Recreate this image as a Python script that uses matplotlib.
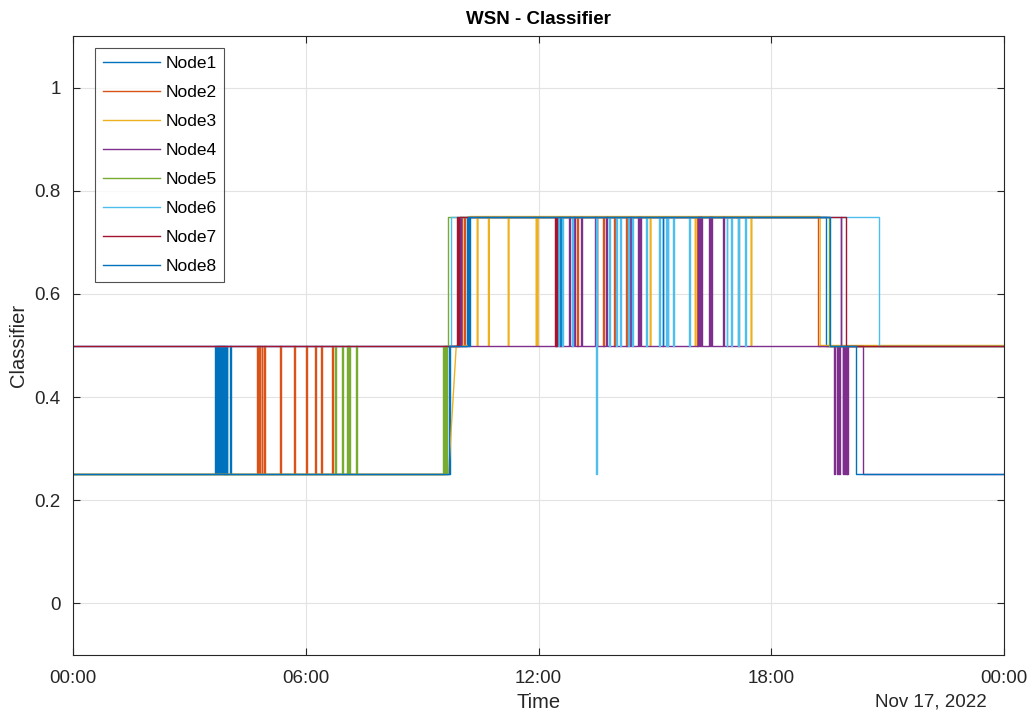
import numpy as np
import matplotlib
matplotlib.use("Agg")
import matplotlib.pyplot as plt
import matplotlib.dates as mdates

# ---------------- data (hours since Nov 16, 2022 00:00) ----------------
node_names = ["Node1", "Node2", "Node3", "Node4", "Node5", "Node6", "Node7", "Node8"]
node_colors = ["#0072BD", "#D95319", "#EDB120", "#7E2F8E", "#77AC30", "#4DBEEE", "#A2142F", "#0072BD"]

# base level changes: (hour, level); None = data gap (linear ramp)
node1_steps = [(0, 0.25), (9.72, 0.5), (10.16, 0.75), (19.40, 0.5)]
node2_steps = [(0, 0.25), (9.60, 0.5), (10.03, 0.75), (19.21, 0.5)]
node3_steps = [(0, 0.25), (9.68, None), (9.88, 0.5), (10.23, 0.75), (19.26, 0.5)]
node4_steps = [(0, 0.5), (20.37, 0.25)]
node5_steps = [(0, 0.25), (9.64, 0.5), (9.667, 0.75), (19.48, 0.5)]
node6_steps = [(0, 0.5), (9.745, 0.75), (20.79, 0.5)]
node7_steps = [(0, 0.5), (9.89, 0.75), (19.92, 0.5)]
node8_steps = [(0, 0.25), (9.70, 0.5), (10.18, 0.75), (19.51, 0.5), (20.18, 0.25)]

# short excursions: (hour, level)
node1_spikes = [(3.66, 0.5), (3.71, 0.5), (3.735, 0.5), (3.76, 0.5), (3.785, 0.5), (3.81, 0.5),
                (3.835, 0.5), (3.86, 0.5), (3.885, 0.5), (3.91, 0.5), (3.935, 0.5), (3.96, 0.5),
                (4.05, 0.5), (12.55, 0.5), (15.20, 0.5)]
node2_spikes = [(4.74, 0.5), (4.80, 0.5), (4.86, 0.5), (4.92, 0.5), (5.34, 0.5), (5.70, 0.5),
                (6.01, 0.5), (6.24, 0.5), (6.39, 0.5), (6.67, 0.5),
                (10.08, 0.5), (12.99, 0.5), (13.50, 0.5), (13.67, 0.5), (13.95, 0.5),
                (14.26, 0.5), (16.09, 0.5)]
node3_spikes = [(10.42, 0.5), (10.71, 0.5), (11.22, 0.5), (11.94, 0.5), (11.97, 0.5),
                (14.88, 0.5), (16.04, 0.5), (17.48, 0.5)]
node4_spikes = [(9.98, 0.75), (12.78, 0.75), (12.92, 0.75), (13.10, 0.75), (13.45, 0.75),
                (13.74, 0.75), (14.36, 0.75), (14.57, 0.75), (14.62, 0.75),
                (16.11, 0.75), (16.135, 0.75), (16.16, 0.75), (16.185, 0.75),
                (16.40, 0.75), (16.425, 0.75), (16.45, 0.75), (16.76, 0.75), (19.79, 0.75),
                (19.62, 0.25), (19.70, 0.25), (19.74, 0.25), (19.84, 0.25), (19.865, 0.25),
                (19.89, 0.25), (19.915, 0.25), (19.94, 0.25), (19.965, 0.25)]
node5_spikes = [(6.75, 0.5), (6.93, 0.5), (7.06, 0.5), (7.085, 0.5), (7.11, 0.5), (7.29, 0.5),
                (9.54, 0.5), (9.565, 0.5), (9.59, 0.5), (17.14, 0.5)]
node6_spikes = [(12.50, 0.5), (12.61, 0.5), (12.86, 0.5), (13.48, 0.25), (13.82, 0.5),
                (14.00, 0.5), (14.10, 0.5), (14.31, 0.5), (14.41, 0.5), (14.77, 0.5),
                (15.11, 0.5), (15.28, 0.5), (15.33, 0.5), (15.47, 0.5), (15.89, 0.5),
                (16.85, 0.5), (16.96, 0.5), (17.14, 0.5), (17.32, 0.5)]
node7_spikes = [(9.93, 0.5), (12.43, 0.5), (12.46, 0.5)]
node8_spikes = [(10.21, 0.5)]

all_steps = [node1_steps, node2_steps, node3_steps, node4_steps,
             node5_steps, node6_steps, node7_steps, node8_steps]
all_spikes = [node1_spikes, node2_spikes, node3_spikes, node4_spikes,
              node5_spikes, node6_spikes, node7_spikes, node8_spikes]

SPIKE_W = 0.02  # hours
END_H = 24.0
START = np.datetime64("2022-11-16T00:00:00")


def level_at(steps, t):
    lv = steps[0][1]
    for st, v in steps:
        if st <= t and v is not None:
            lv = v
    return lv


def build(steps, spikes):
    ev = list(steps)
    for t, lvl in spikes:
        base = level_at(steps, t)
        ev.append((t, lvl))
        ev.append((t + SPIKE_W, base))
    ev.sort(key=lambda e: e[0])
    xs, ys = [], []
    for i, (t, v) in enumerate(ev):
        t_next = ev[i + 1][0] if i + 1 < len(ev) else END_H
        if v is None:
            continue
        xs += [t, t_next]
        ys += [v, v]
    return np.array(xs), np.array(ys)


def to_dt(h):
    return START + (np.asarray(h) * 3600).astype("int64").astype("timedelta64[s]")


# ---------------- figure ----------------
plt.rcParams["font.family"] = ["Liberation Sans", "DejaVu Sans"]
fig = plt.figure(figsize=(10.28, 7.13), dpi=100)
ax = fig.add_axes([73 / 1028, 1 - 655 / 713, (1004 - 73) / 1028, (655 - 36) / 713])

for name, col, st, sp in zip(node_names, node_colors, all_steps, all_spikes):
    xs, ys = build(st, sp)
    ax.plot(to_dt(xs), ys, color=col, lw=1.0, label=name)

ax.set_xlim(to_dt(0.0), to_dt(24.0))
ax.set_ylim(-0.1, 1.1)
ax.set_yticks([0, 0.2, 0.4, 0.6, 0.8, 1.0])
ax.set_yticklabels(["0", "0.2", "0.4", "0.6", "0.8", "1"])
ax.xaxis.set_major_locator(mdates.HourLocator(byhour=[0, 6, 12, 18]))
ax.xaxis.set_major_formatter(mdates.DateFormatter("%H:%M"))

axcol = "#262626"
for s in ax.spines.values():
    s.set_color(axcol)
    s.set_linewidth(0.8)
ax.tick_params(direction="in", length=5, width=0.8, colors=axcol, labelsize=13.5,
               top=True, right=True)
ax.tick_params(axis="x", pad=10.5)
ax.tick_params(axis="y", pad=9)
ax.grid(True, color="#e3e3e3", lw=0.8)
ax.set_axisbelow(True)

ax.set_title("WSN - Classifier", fontsize=13.5, fontweight="bold", color="black", pad=9)
ax.set_ylabel("Classifier", fontsize=14.5, color=axcol)
ax.yaxis.set_label_coords(-(73 - 28) / 931, 0.5)
ax.set_xlabel("Time", fontsize=14.5, color=axcol)
ax.xaxis.set_label_coords(0.5, -(703 - 655) / 619)
ax.xaxis.label.set_va("center")
ax.text(0.982, -(702 - 655) / 619, "Nov 17, 2022", transform=ax.transAxes, ha="right",
        va="center", fontsize=13.5, color=axcol)

leg = ax.legend(loc="upper left", bbox_to_anchor=(0.0236, 0.9806), borderaxespad=0,
                fontsize=12.5, handlelength=3.3, handletextpad=0.3, labelspacing=0.8,
                borderpad=0.45, fancybox=False, frameon=True)
leg.get_frame().set_edgecolor(axcol)
leg.get_frame().set_linewidth(0.8)

fig.savefig("out.png", dpi=100)
